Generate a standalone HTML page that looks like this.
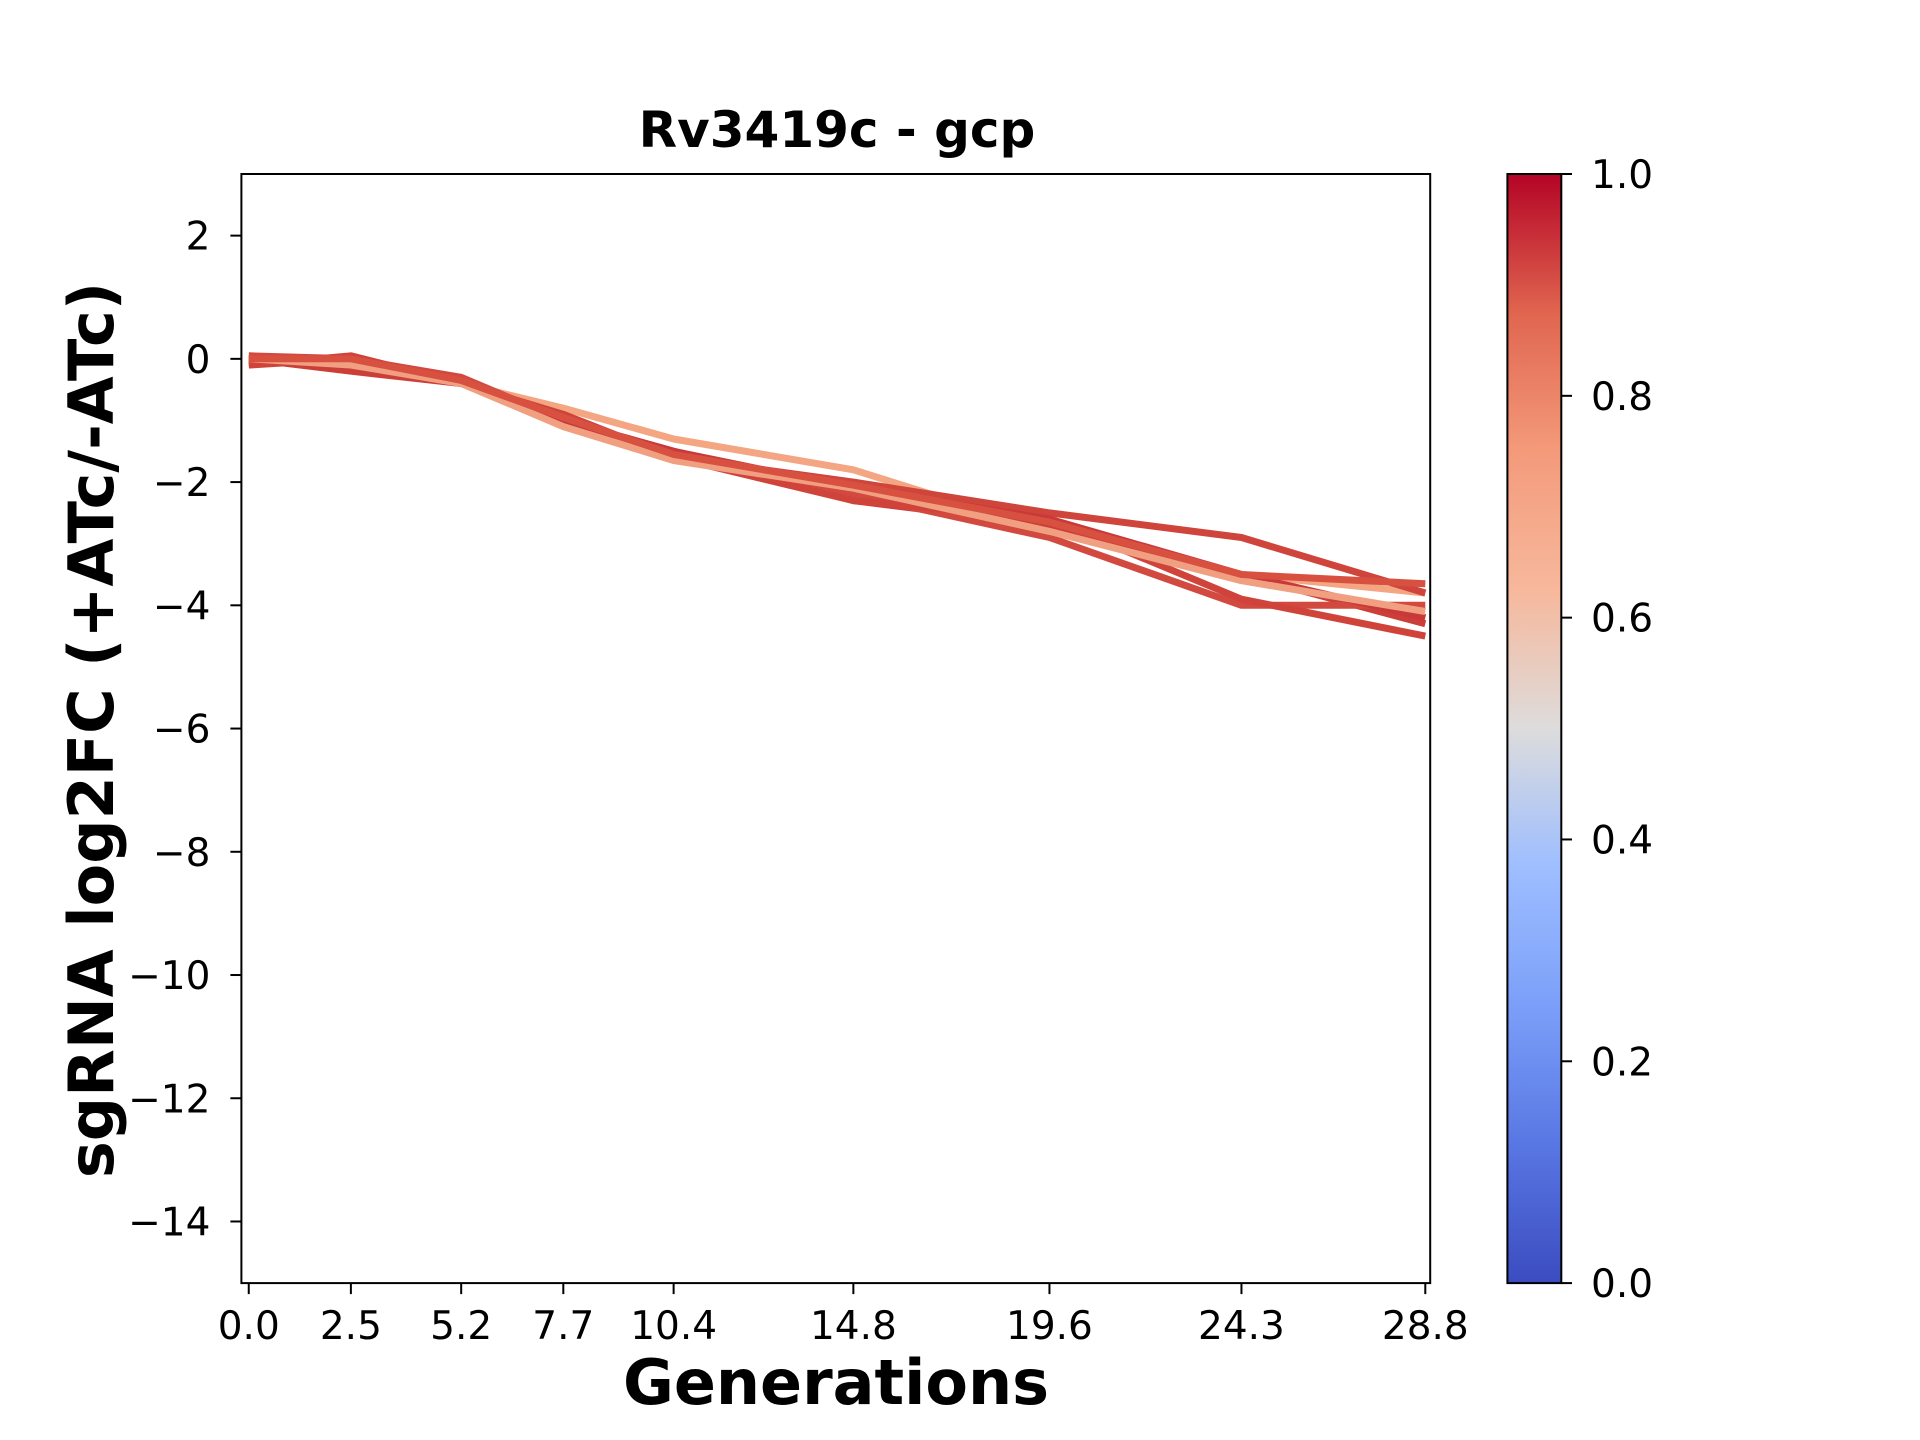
<!DOCTYPE html>
<html><head><meta charset="utf-8"><style>
html,body{margin:0;padding:0;background:#fff;}
svg{display:block;font-family:"DejaVu Sans","Liberation Sans",sans-serif;}
</style></head><body>
<svg id="chart" width="1920" height="1440" viewBox="0 0 1920 1440">
<defs>
<linearGradient id="cw" x1="0" y1="1" x2="0" y2="0">
<stop offset="0" stop-color="#3b4cc0"/><stop offset="0.125" stop-color="#5977e3"/>
<stop offset="0.25" stop-color="#7b9ff9"/><stop offset="0.375" stop-color="#9ebeff"/>
<stop offset="0.5" stop-color="#dddcdc"/><stop offset="0.625" stop-color="#f7b89c"/>
<stop offset="0.75" stop-color="#f49a7b"/><stop offset="0.875" stop-color="#e0654f"/>
<stop offset="1" stop-color="#b40426"/></linearGradient>
<clipPath id="pc"><rect x="241.4" y="174" width="1188.8" height="1109.1"/></clipPath>
</defs>
<g id="lines" clip-path="url(#pc)"></g>
<rect x="241.4" y="174" width="1188.8" height="1109.1" fill="none" stroke="#000" stroke-width="2"/>
<g id="xt"></g>
<g id="yt"></g>
<text x="837" y="147" text-anchor="middle" font-size="50" font-weight="bold">Rv3419c - gcp</text>
<text x="836" y="1404" text-anchor="middle" font-size="62" font-weight="bold">Generations</text>
<text transform="translate(113,730) rotate(-90)" text-anchor="middle" font-size="62" font-weight="bold">sgRNA log2FC (+ATc/-ATc)</text>
<rect x="1507.4" y="174" width="53.9" height="1109.1" fill="url(#cw)" stroke="#000" stroke-width="2"/>
<g id="ct"></g>
</svg>
<script>
const xTicks = [0.0, 2.5, 5.2, 7.7, 10.4, 14.8, 19.6, 24.3, 28.8];
const xTickLabels = ["0.0","2.5","5.2","7.7","10.4","14.8","19.6","24.3","28.8"];
const yTicks = [2, 0, -2, -4, -6, -8, -10, -12, -14];
const cTicks = [0.0, 0.2, 0.4, 0.6, 0.8, 1.0];
const generations = [0.0, 2.5, 5.2, 7.7, 10.4, 14.8, 19.6, 24.3, 28.8];
const seriesA = [0, -0.1, -0.4, -0.8, -1.3, -1.8, -2.8, -3.5, -3.8];
const seriesB = [-0.1, 0, -0.4, -1.0, -1.6, -2.0, -2.5, -2.9, -3.8];
const seriesC = [0, -0.2, -0.4, -1.0, -1.5, -2.3, -2.7, -3.5, -4.3];
const seriesD = [0.05, 0, -0.3, -1.0, -1.5, -2.2, -2.9, -4.0, -4.0];
const seriesE = [-0.1, 0.05, -0.4, -0.9, -1.6, -2.3, -2.6, -3.9, -4.5];
const seriesF = [0, 0, -0.35, -1.0, -1.5, -2.1, -2.6, -3.5, -4.2];
const seriesG = [0, -0.1, -0.4, -1.1, -1.65, -2.1, -2.8, -3.6, -4.1];
const seriesH = [0, 0, -0.35, -0.95, -1.55, -2.05, -2.65, -3.5, -3.65];
const allSeries = [seriesA, seriesB, seriesC, seriesD, seriesE, seriesF, seriesG, seriesH];
const seriesColors = ["#f4a582","#cf453c","#cc3e38","#d2493f","#d0433b","#c9393a","#f0a080","#d8503f"];

const X0=241.4,X1=1430.2,Y0=174,Y1=1283.1;
const xs=v=>X0+(v+0.18)/(28.92+0.18)*(X1-X0);
const ys=v=>Y0+(3-v)/(18)*(Y1-Y0);
const cs=v=>Y1-v*(Y1-Y0);
const NS="http://www.w3.org/2000/svg";
function mk(t,a,p){const e=document.createElementNS(NS,t);for(const k in a)e.setAttribute(k,a[k]);p.appendChild(e);return e;}
const lg=document.getElementById('lines');
allSeries.forEach((s,i)=>{
 const d=s.map((v,j)=>(j?'L':'M')+xs(generations[j]).toFixed(1)+','+ys(v).toFixed(1)).join('');
 const p=mk('path',{d:d,fill:'none',stroke:seriesColors[i],'stroke-width':7,'stroke-linejoin':'round'},lg);
 
 
});
const xt=document.getElementById('xt');
xTicks.forEach((v,i)=>{
 mk('line',{x1:xs(v),x2:xs(v),y1:Y1,y2:Y1+11,stroke:'#000','stroke-width':2},xt);
 const t=mk('text',{x:xs(v),y:Y1+56,'text-anchor':'middle','font-size':39},xt);
 t.textContent=xTickLabels[i];
 
 
});
const yt=document.getElementById('yt');
yTicks.forEach(v=>{
 mk('line',{x1:X0-11,x2:X0,y1:ys(v),y2:ys(v),stroke:'#000','stroke-width':2},yt);
 const t=mk('text',{x:X0-31,y:ys(v)+14,'text-anchor':'end','font-size':39},yt);
 t.textContent=v<0?'\u2212'+Math.abs(v):String(v);
 
 
});
const ct=document.getElementById('ct');
cTicks.forEach(v=>{
 mk('line',{x1:1561.3,x2:1572,y1:cs(v),y2:cs(v),stroke:'#000','stroke-width':2},ct);
 const t=mk('text',{x:1591,y:cs(v)+14,'font-size':39},ct);
 t.textContent=v.toFixed(1);
 
 
});
</script>
</body></html>
